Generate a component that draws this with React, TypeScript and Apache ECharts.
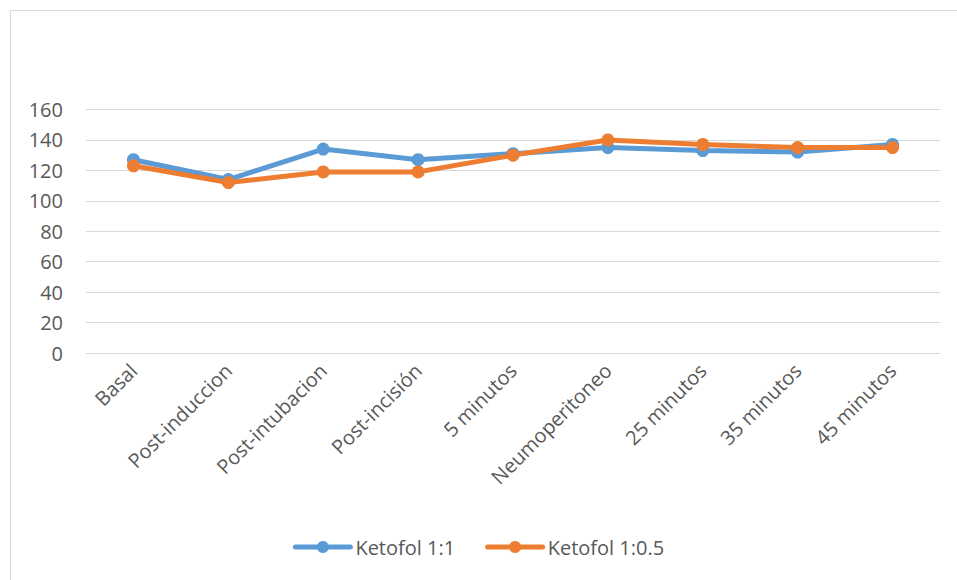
import React, { useEffect, useRef } from "react";
import * as echarts from "echarts";

const categories = [
  "Basal",
  "Post-induccion",
  "Post-intubacion",
  "Post-incisión",
  "5 minutos",
  "Neumoperitoneo",
  "25 minutos",
  "35 minutos",
  "45 minutos",
];
const ketofol11 = [127, 114, 134, 127, 131, 135, 133, 132, 137];
const ketofol105 = [123, 112, 119, 119, 130, 140, 137, 135, 135];
const yTicks = { min: 0, max: 160, interval: 20 };

const FONT = "'Open Sans', 'Liberation Sans', sans-serif";
const TEXT = "#595959";

export default function App() {
  const ref = useRef<HTMLDivElement>(null);
  useEffect(() => {
    if (!ref.current) return;
    const chart = echarts.init(ref.current, undefined, { renderer: "svg" });
    chart.setOption({
      animation: false,
      backgroundColor: "#ffffff",
      graphic: [
        {
          type: "rect",
          shape: { x: 10.5, y: 10.5, width: 960, height: 600 },
          style: { fill: "none", stroke: "#d9d9d9", lineWidth: 1 },
          silent: true,
        },
      ],
      grid: { left: 86, right: 17, top: 109.5, bottom: 227, containLabel: false },
      legend: {
        bottom: 18,
        left: "center",
        itemWidth: 55,
        itemHeight: 15,
        itemGap: 30,
        lineStyle: { width: 5, cap: "round" },
        textStyle: { color: TEXT, fontSize: 20, fontFamily: FONT },
        data: ["Ketofol 1:1", "Ketofol 1:0.5"],
      },
      xAxis: {
        type: "category",
        data: categories,
        boundaryGap: true,
        axisLine: { show: true, lineStyle: { color: "#d9d9d9", width: 1 } },
        axisTick: { show: false },
        axisLabel: {
          rotate: 45,
          interval: 0,
          margin: 14,
          color: TEXT,
          fontSize: 20,
          fontFamily: FONT,
        },
      },
      yAxis: {
        type: "value",
        min: yTicks.min,
        max: yTicks.max,
        interval: yTicks.interval,
        axisLine: { show: false },
        axisTick: { show: false },
        axisLabel: { color: TEXT, fontSize: 20, fontFamily: FONT, margin: 23 },
        splitLine: { lineStyle: { color: "#d9d9d9", width: 1 } },
      },
      series: [
        {
          name: "Ketofol 1:1",
          type: "line",
          data: ketofol11,
          symbol: "circle",
          symbolSize: 13,
          itemStyle: { color: "#5B9BD5" },
          lineStyle: { color: "#5B9BD5", width: 5 },
        },
        {
          name: "Ketofol 1:0.5",
          type: "line",
          data: ketofol105,
          symbol: "circle",
          symbolSize: 13,
          itemStyle: { color: "#ED7D31" },
          lineStyle: { color: "#ED7D31", width: 5 },
        },
      ],
    });
    return () => chart.dispose();
  }, []);
  return (
    <div
      ref={ref}
      style={{ position: "fixed", left: 0, top: 0, width: 957, height: 580 }}
    />
  );
}
